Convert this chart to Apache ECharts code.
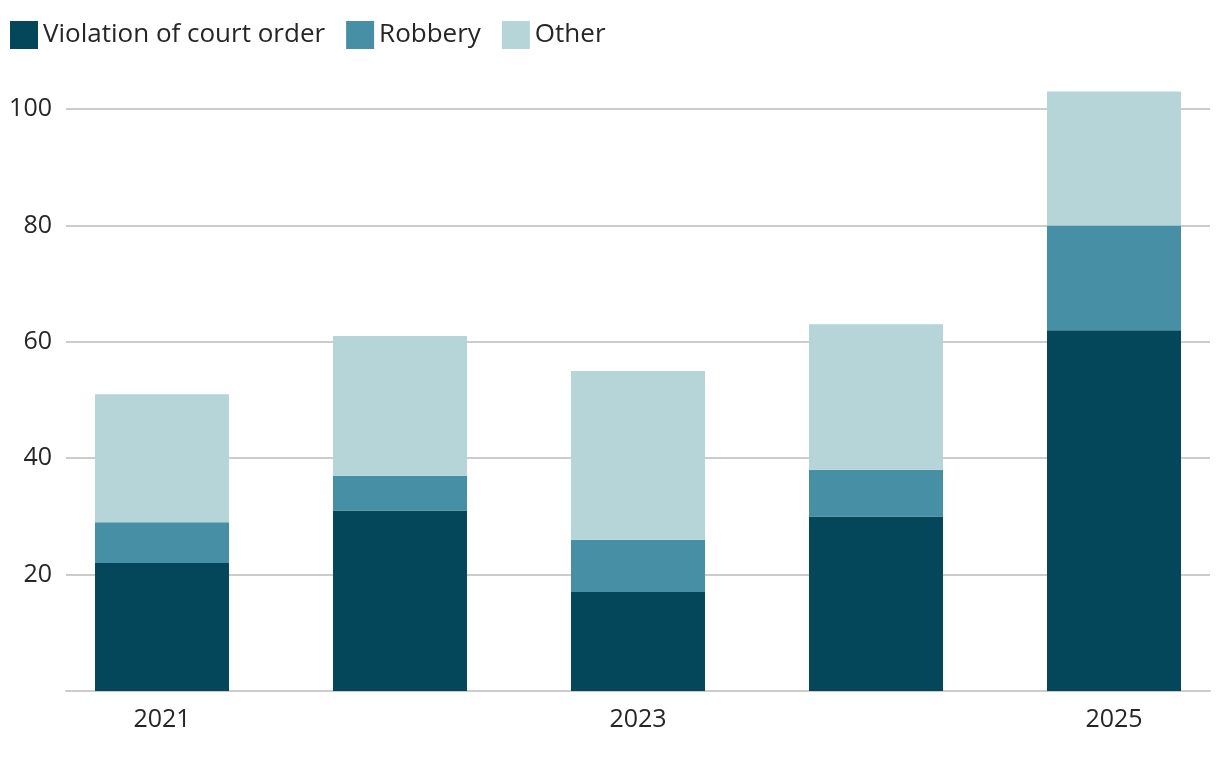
<!DOCTYPE html>
<html>
<head>
<meta charset="utf-8">
<script src="https://cdn.jsdelivr.net/npm/echarts@6/dist/echarts.min.js"></script>
<style>
html,body{margin:0;padding:0;background:#fff;overflow:hidden;width:1220px;height:758px;}
#chart{width:1240px;height:758px;}
</style>
</head>
<body>
<div id="chart"></div>
<script>
const years = ['2021', '2022', '2023', '2024', '2025'];
const yTickLabels = [20, 40, 60, 80, 100];
const violation = [22, 31, 17, 30, 62];
const robbery = [7, 6, 9, 8, 18];
const other = [22, 24, 29, 25, 23];

const font = '"Open Sans", "Noto Sans", sans-serif';
const textColor = '#262626';
const colors = ['#04475A', '#468FA5', '#B5D5D8'];

function mk(name, arr, color){
  return {
    name: name, type: 'bar', stack: 'total', barWidth: 134, clip: false,
    xAxisIndex: 1, yAxisIndex: 1,
    itemStyle: {color: color}, emphasis: {disabled: true},
    data: arr
  };
}

const chart = echarts.init(document.getElementById('chart'), null, {renderer: 'canvas'});
chart.setOption({
  animation: false,
  textStyle: {fontFamily: font},
  legend: {
    left: 5, top: 16, itemWidth: 28, itemHeight: 28, itemGap: 21,
    icon: 'rect',
    textStyle: {fontFamily: font, fontSize: 26, color: textColor},
    data: ['Violation of court order', 'Robbery', 'Other']
  },
  grid: [
    {left: 66, width: 1144, top: 109, bottom: 67, containLabel: false},
    {left: 43, width: 1190, top: 109, bottom: 67, containLabel: false}
  ],
  xAxis: [
    {
      gridIndex: 0, type: 'value', min: 0, max: 1,
      axisLine: {show: true, onZero: false, lineStyle: {color: '#cccccc', width: 2}},
      axisTick: {show: false}, splitLine: {show: false}, axisLabel: {show: false}
    },
    {
      gridIndex: 1, type: 'category', data: years,
      axisLine: {show: false}, axisTick: {show: false}, splitLine: {show: false},
      axisLabel: {interval: 1, fontFamily: font, fontSize: 25, color: textColor, margin: 16}
    }
  ],
  yAxis: [
    {
      gridIndex: 0, type: 'value', min: 0, max: 100, interval: 20,
      axisLine: {show: false}, axisTick: {show: false},
      splitLine: {show: true, lineStyle: {color: '#cccccc', width: 2}},
      axisLabel: {customValues: yTickLabels, fontFamily: font, fontSize: 25, color: textColor, margin: 14}
    },
    {
      gridIndex: 1, type: 'value', min: 0, max: 100, show: false,
      splitLine: {show: false}
    }
  ],
  series: [
    mk('Violation of court order', violation, colors[0]),
    mk('Robbery', robbery, colors[1]),
    mk('Other', other, colors[2])
  ]
});
</script>
</body>
</html>
